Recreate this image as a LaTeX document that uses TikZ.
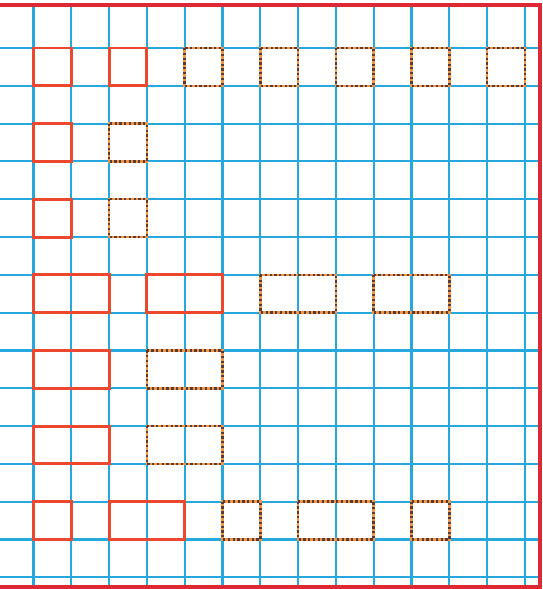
\documentclass[tikz,border=0pt]{standalone}
\definecolor{gridblue}{RGB}{38,168,222}
\definecolor{boxred}{RGB}{236,72,48}
\definecolor{framered}{RGB}{222,40,52}
\definecolor{dotorange}{RGB}{240,150,70}
\definecolor{dotdark}{RGB}{90,58,50}
\begin{document}
\begin{tikzpicture}[
        x=1cm, y=-1cm,
        gridline/.style={draw=gridblue, line width=1.6pt},
        frame/.style={draw=framered, line width=3pt},
        solidbox/.style={draw=boxred, line width=2.2pt},
        dotbox/.style={
          draw=dotorange,
          line width=1.9pt,
          postaction={draw=dotdark, line width=1.9pt, dash pattern=on 1.7pt off 1.9pt}
        }
      ]
      \useasboundingbox (-0.885,-1.27) rectangle (13.46,14.31);

      % grid
      \foreach \i in {0,...,13}
        \draw[gridline] (\i,-1.1) -- (\i,14.25);
      \foreach \j in {0,...,14}
        \draw[gridline] (-0.9,\j) -- (13.39,\j);

      % frame
      \draw[frame] (-1,-1.13) -- (13.39,-1.13) -- (13.39,14.25) -- (-1,14.25);

      % row 1
      \draw[solidbox] (0,0) rectangle (1,1);
      \draw[solidbox] (2,0) rectangle (3,1);
      \draw[dotbox] (4,0) rectangle (5,1);
      \draw[dotbox] (6,0) rectangle (7,1);
      \draw[dotbox] (8,0) rectangle (9,1);
      \draw[dotbox] (10,0) rectangle (11,1);
      \draw[dotbox] (12,0) rectangle (13,1);

      % rows 2 and 3
      \draw[solidbox] (0,2) rectangle (1,3);
      \draw[dotbox] (2,2) rectangle (3,3);
      \draw[solidbox] (0,4) rectangle (1,5);
      \draw[dotbox] (2,4) rectangle (3,5);

      % row 4
      \draw[solidbox] (0,6) rectangle (2,7);
      \draw[solidbox] (3,6) rectangle (5,7);
      \draw[dotbox] (6,6) rectangle (8,7);
      \draw[dotbox] (9,6) rectangle (11,7);

      % rows 5 and 6
      \draw[solidbox] (0,8) rectangle (2,9);
      \draw[dotbox] (3,8) rectangle (5,9);
      \draw[solidbox] (0,10) rectangle (2,11);
      \draw[dotbox] (3,10) rectangle (5,11);

      % row 7
      \draw[solidbox] (0,12) rectangle (1,13);
      \draw[solidbox] (2,12) rectangle (4,13);
      \draw[dotbox] (5,12) rectangle (6,13);
      \draw[dotbox] (7,12) rectangle (9,13);
      \draw[dotbox] (10,12) rectangle (11,13);
    \end{tikzpicture}
\end{document}
